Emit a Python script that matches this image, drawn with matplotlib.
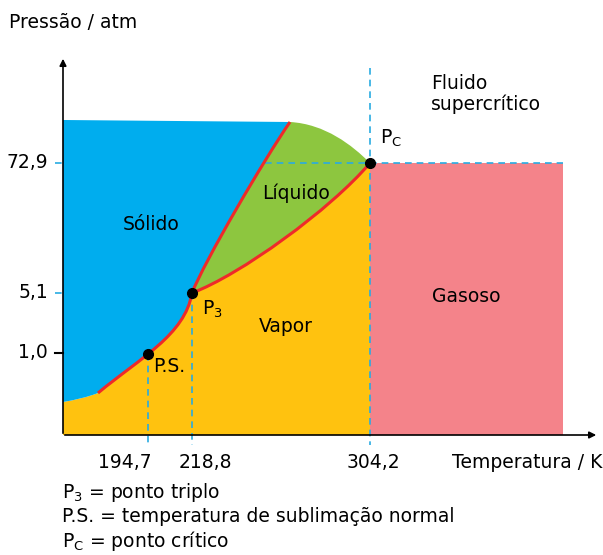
import matplotlib.pyplot as plt
from matplotlib.path import Path
from matplotlib.patches import PathPatch

# schematic phase diagram of CO2, drawn in figure pixel units
x_axis, y_axis = 63, 435
tick_x = [148, 192, 370]
tick_x_label_pos = [125, 205, 373]
tick_x_labels = ["194,7", "218,8", "304,2"]
tick_y = [353, 293, 163]
tick_y_labels = ["1,0", "5,1", "72,9"]

p_ps = (148, 354)
p_triple = (192, 293)
p_crit = (370, 163)

# phase boundaries as cubic bezier control points
solid_low = [(63, 402), (75, 400), (88, 397), (98, 393)]
sublimation = [(98, 393), (140, 358), (185, 335), p_triple]
melting = [p_triple, (204, 262), (265, 158), (290, 122)]
vaporization = [p_triple, (240, 275), (330, 210), p_crit]
liquid_top = [(290, 122), (325, 124), (352, 145), p_crit]
solid_top_left = (63, 120)
gas_right = 563

c_blue = "#00adee"
c_green = "#8dc63f"
c_yellow = "#ffc20f"
c_pink = "#f4838a"
c_red = "#ee2a2a"
c_dash = "#29abe2"


def build_path(start, parts, close=True):
    verts, codes = [start], [Path.MOVETO]
    for part in parts:
        if len(part) == 4:
            verts += part[1:]
            codes += [Path.CURVE4] * 3
        else:
            verts.append(part)
            codes.append(Path.LINETO)
    if close:
        verts.append(start)
        codes.append(Path.CLOSEPOLY)
    return Path(verts, codes)


def rev(curve):
    return curve[::-1]


fig = plt.figure(figsize=(6.03, 5.55), dpi=100)
ax = fig.add_axes([0, 0, 1, 1])
ax.set_xlim(0, 603)
ax.set_ylim(555, 0)
ax.axis("off")

# regions
yellow = build_path(solid_low[0], [solid_low, sublimation, vaporization,
                                   (370, y_axis), (x_axis, y_axis)])
ax.add_patch(PathPatch(yellow, fc=c_yellow, ec="none", zorder=1))
green = build_path(p_triple, [melting, liquid_top, rev(vaporization)])
ax.add_patch(PathPatch(green, fc=c_green, ec="none", zorder=1))
pink = build_path((370, 163), [(gas_right, 163), (gas_right, y_axis), (370, y_axis)])
ax.add_patch(PathPatch(pink, fc=c_pink, ec="none", zorder=1))

# dashed guides
dash = dict(color=c_dash, lw=1.2, ls=(0, (4, 3)), zorder=2)
ax.plot([55, gas_right], [163, 163], **dash)
ax.plot([55, x_axis], [293, 293], **dash)
ax.plot([370, 370], [68, 445], **dash)
for x, y in [p_ps, p_triple]:
    ax.plot([x, x], [y, 445], **dash)

blue = build_path(solid_top_left, [melting[-1], rev(melting), rev(sublimation), rev(solid_low)])
ax.add_patch(PathPatch(blue, fc=c_blue, ec="none", zorder=3))

# red phase boundaries
for curve in (sublimation, melting, vaporization):
    ax.add_patch(PathPatch(build_path(curve[0], [curve], close=False),
                           fc="none", ec=c_red, lw=2.2, zorder=4))

for x, y in (p_ps, p_triple, p_crit):
    ax.plot(x, y, "o", color="black", ms=7, zorder=5)

# axes with arrows
ax.annotate("", xy=(x_axis, 56), xytext=(x_axis, y_axis + 1),
            arrowprops=dict(arrowstyle="-|>", color="black", lw=1.2, mutation_scale=10), zorder=6)
ax.annotate("", xy=(599, y_axis), xytext=(x_axis - 1, y_axis),
            arrowprops=dict(arrowstyle="-|>", color="black", lw=1.2, mutation_scale=10), zorder=6)
ax.plot([55, x_axis], [353, 353], color="black", lw=1.5, zorder=6)

fs = 13.5
for x, lab in zip(tick_x_label_pos, tick_x_labels):
    ax.text(x, 463, lab, ha="center", va="center", fontsize=fs)
for y, lab in zip(tick_y, tick_y_labels):
    ax.text(48, y, lab, ha="right", va="center", fontsize=fs)

ax.text(9, 22, "Pressão / atm", ha="left", va="center", fontsize=fs)
ax.text(452, 463, "Temperatura / K", ha="left", va="center", fontsize=fs)

ax.text(151, 224, "Sólido", ha="center", va="center", fontsize=fs, zorder=7)
ax.text(296, 193, "Líquido", ha="center", va="center", fontsize=fs, zorder=7)
ax.text(286, 326, "Vapor", ha="center", va="center", fontsize=fs, zorder=7)
ax.text(466, 296, "Gasoso", ha="center", va="center", fontsize=fs, zorder=7)
ax.text(431, 94, "Fluido\nsupercrítico", ha="left", va="center", fontsize=fs,
        linespacing=1.15, zorder=7)
ax.text(380, 138, r"P$_\mathregular{C}$", ha="left", va="center", fontsize=fs, zorder=7)
ax.text(202, 309, r"P$_\mathregular{3}$", ha="left", va="center", fontsize=fs, zorder=7)
ax.text(153, 366, "P.S.", ha="left", va="center", fontsize=fs, zorder=7)

ax.text(62, 492, r"P$_\mathregular{3}$ = ponto triplo", ha="left", va="center", fontsize=fs)
ax.text(62, 517, "P.S. = temperatura de sublimação normal", ha="left", va="center", fontsize=fs)
ax.text(62, 541, r"P$_\mathregular{C}$ = ponto crítico", ha="left", va="center", fontsize=fs)

fig.savefig("out.png", dpi=100)
